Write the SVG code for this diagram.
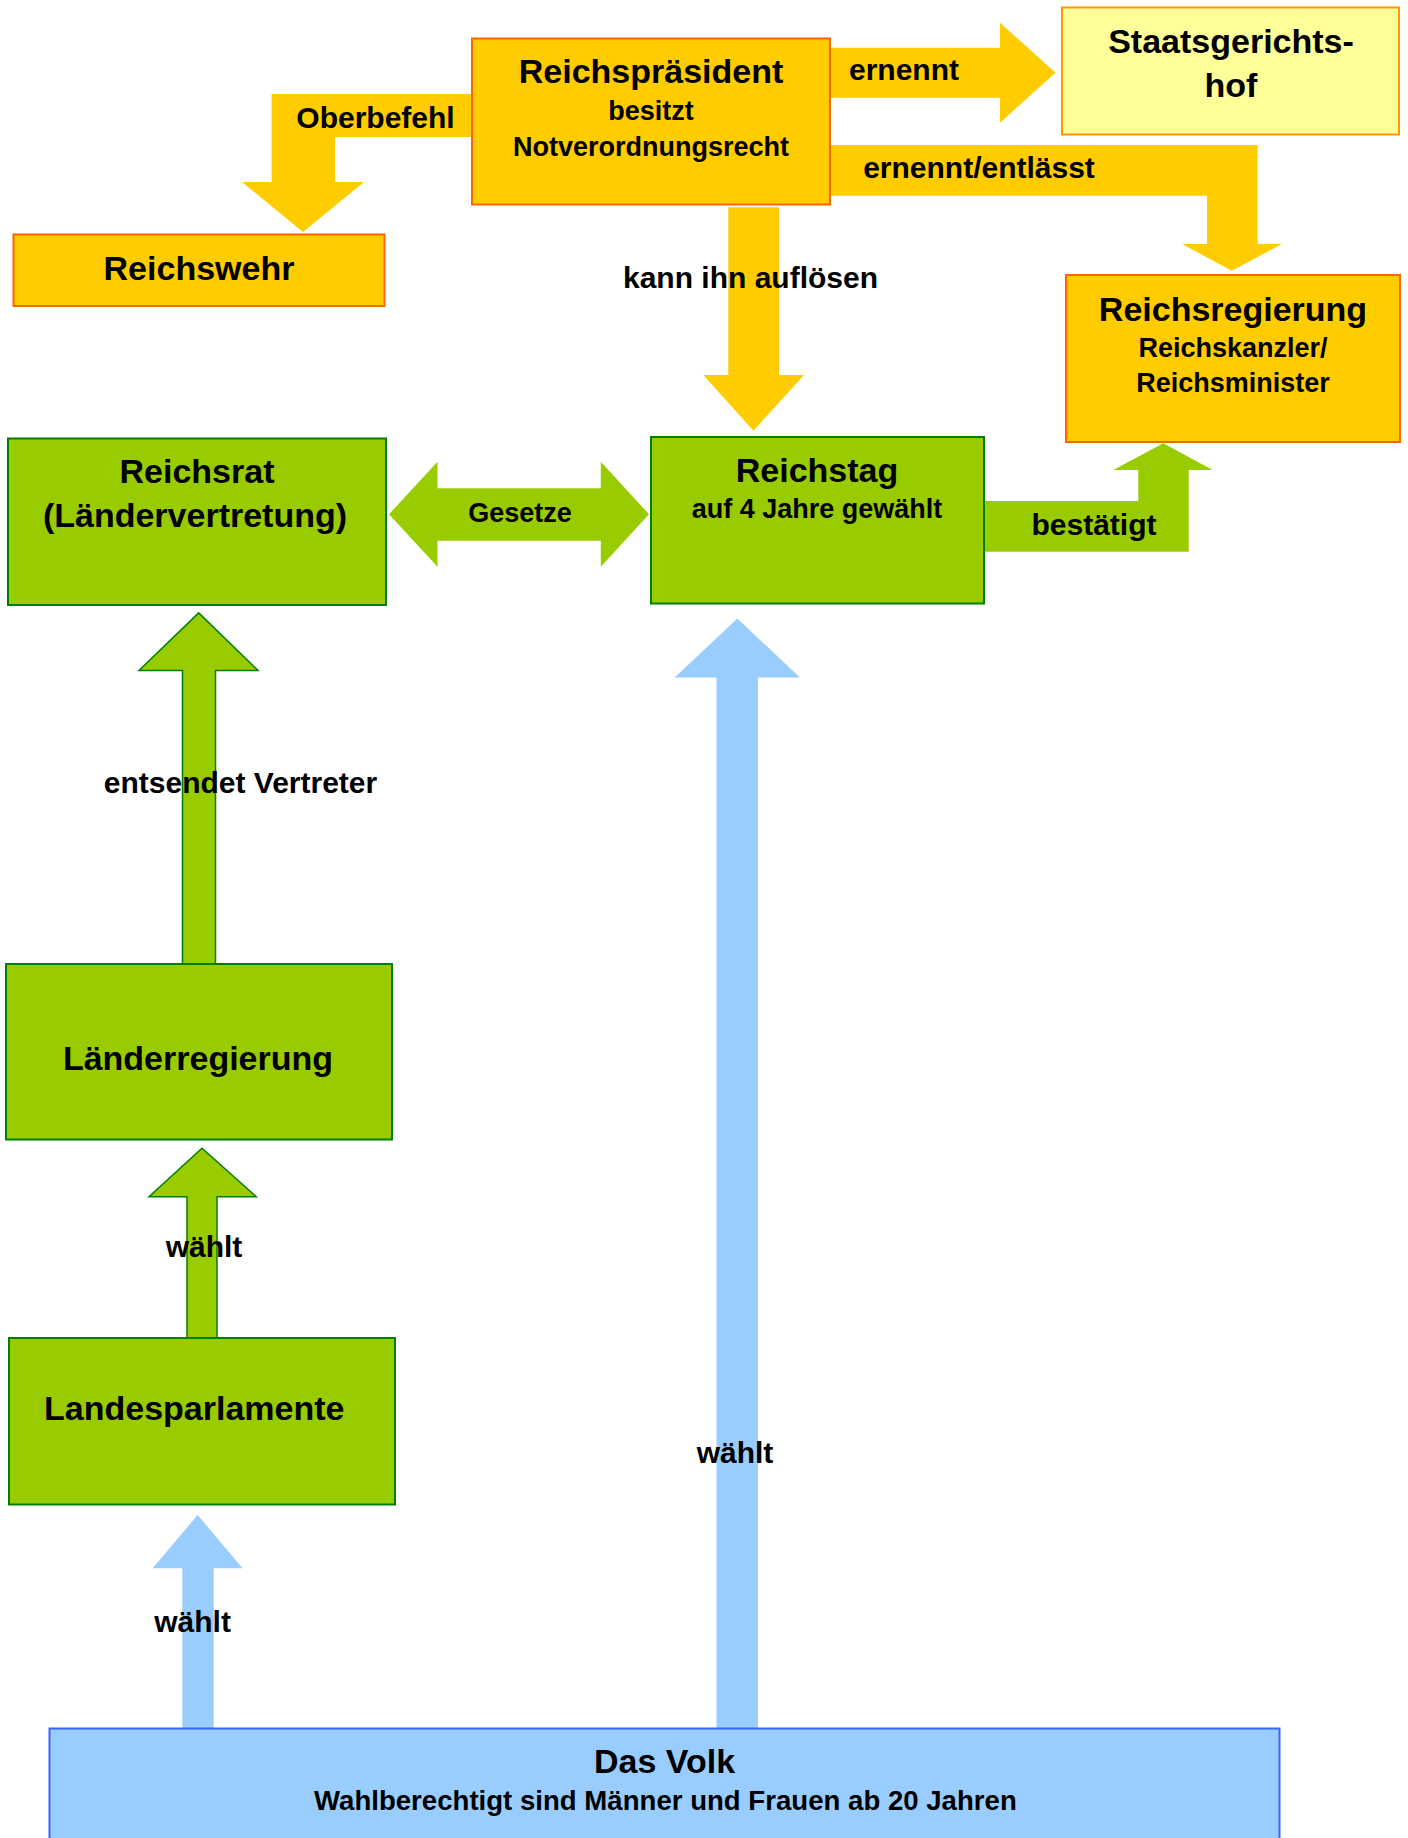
<svg xmlns="http://www.w3.org/2000/svg" width="1408" height="1838" viewBox="0 0 1408 1838">
<style>
text{font-family:"Liberation Sans",Arial,sans-serif;font-weight:bold;fill:#000;text-anchor:middle}
.t{font-size:34px}
.s{font-size:27px}
.l{font-size:30px}
.yb{fill:#ffcc00;stroke:#ff6600;stroke-width:2}
.sg{fill:#ffff99;stroke:#ff9900;stroke-width:2}
.gb{fill:#99cc00;stroke:#008000;stroke-width:2}
.vb{fill:#99ccff;stroke:#3366ff;stroke-width:2}
.ya{fill:#ffcc00}
.ga{fill:#99cc00}
.gao{fill:#99cc00;stroke:#008000;stroke-width:1.5}
.ba{fill:#99ccff}
</style>
<rect width="1408" height="1838" fill="#fff"/>
<g id="connectors">
<polygon id="a-oberbefehl" class="ya" points="473,94 271.6,94 271.6,182 242,182 303,232 364,182 335,182 335,137 473,137"/>
<polygon id="a-ernennt" class="ya" points="830,47.7 1000,47.7 1000,22.7 1055.5,72.7 1000,122.7 1000,97.7 830,97.7"/>
<polygon id="a-entlaesst" class="ya" points="830,145 1257.6,145 1257.6,244 1282,244 1231.7,270.7 1182,244 1207,244 1207,195.7 830,195.7"/>
<polygon id="a-aufloesen" class="ya" points="728.3,207.3 779,207.3 779,375 804,375 753.5,430.7 703.3,375 728.3,375"/>
<polygon id="a-gesetze" class="ga" points="389,514.3 437.5,461.7 437.5,488.3 600.8,488.3 600.8,461.7 649,514.3 600.8,566.7 600.8,540.7 437.5,540.7 437.5,566.7"/>
<polygon id="a-bestaetigt" class="ga" points="985,501 1138.3,501 1138.3,470 1113.3,470 1163.3,443.3 1212.7,470 1188.7,470 1188.7,551.7 985,551.7"/>
<polygon id="a-entsendet" class="gao" points="182.5,964 182.5,670.4 139,670.4 198.7,612.9 258,670.4 215.5,670.4 215.5,964"/>
<polygon id="a-waehlt-land" class="gao" points="187,1338 187,1196.7 149,1196.7 202,1148.3 256.3,1196.7 217,1196.7 217,1338"/>
<polygon id="a-waehlt-reichstag" class="ba" points="716.5,1728.5 716.5,677.5 674.7,677.5 737.4,618.6 800,677.5 758,677.5 758,1728.5"/>
<polygon id="a-waehlt-volk" class="ba" points="182.3,1728.5 182.3,1568.3 152.7,1568.3 197.6,1515 242.5,1568.3 213.7,1568.3 213.7,1728.5"/>
<text class="l" x="375.5" y="128">Oberbefehl</text>
<text class="l" x="904" y="80">ernennt</text>
<text class="l" x="979" y="178">ernennt/entlässt</text>
<text class="l" x="750.5" y="288">kann ihn auflösen</text>
<text class="s" x="520" y="521.7">Gesetze</text>
<text class="l" x="1094" y="535">bestätigt</text>
<text class="l" x="240.5" y="793">entsendet Vertreter</text>
<text class="l" x="204" y="1256.7">wählt</text>
<text class="l" x="735" y="1463.3">wählt</text>
<text class="l" x="192.6" y="1631.7">wählt</text>
</g>
<g id="reichspraesident">
<rect class="yb" x="472" y="38.5" width="358" height="166"/>
<text class="t" x="651" y="83">Reichspräsident</text>
<text class="s" x="651" y="120">besitzt</text>
<text class="s" x="651" y="156">Notverordnungsrecht</text>
</g>
<g id="staatsgerichtshof">
<rect class="sg" x="1062" y="7.5" width="337" height="127"/>
<text class="t" x="1231" y="53">Staatsgerichts-</text>
<text class="t" x="1231" y="97.3">hof</text>
</g>
<g id="reichswehr">
<rect class="yb" x="13.5" y="234.5" width="371" height="71.5"/>
<text class="t" x="199" y="280">Reichswehr</text>
</g>
<g id="reichsregierung">
<rect class="yb" x="1066" y="275" width="334" height="167"/>
<text class="t" x="1233" y="320.7">Reichsregierung</text>
<text class="s" x="1233" y="356.7">Reichskanzler/</text>
<text class="s" x="1233" y="391.7">Reichsminister</text>
</g>
<g id="reichsrat">
<rect class="gb" x="8" y="438.5" width="378" height="166.5"/>
<text class="t" x="197" y="483.3">Reichsrat</text>
<text class="t" x="195" y="527">(Ländervertretung)</text>
</g>
<g id="reichstag">
<rect class="gb" x="651" y="437" width="333" height="166.5"/>
<text class="t" x="817" y="481.7">Reichstag</text>
<text class="s" x="817" y="518.3">auf 4 Jahre gewählt</text>
</g>
<g id="laenderregierung">
<rect class="gb" x="6" y="964" width="386" height="175.5"/>
<text class="t" x="198" y="1069.6">Länderregierung</text>
</g>
<g id="landesparlamente">
<rect class="gb" x="9" y="1338" width="386" height="166.5"/>
<text class="t" x="194.3" y="1420">Landesparlamente</text>
</g>
<g id="volk">
<rect class="vb" x="49.5" y="1728.5" width="1230" height="130"/>
<text class="t" x="664.5" y="1773.3">Das Volk</text>
<text class="s" x="665.4" y="1810" style="font-size:27.6px">Wahlberechtigt sind Männer und Frauen ab 20 Jahren</text>
</g>
</svg>
